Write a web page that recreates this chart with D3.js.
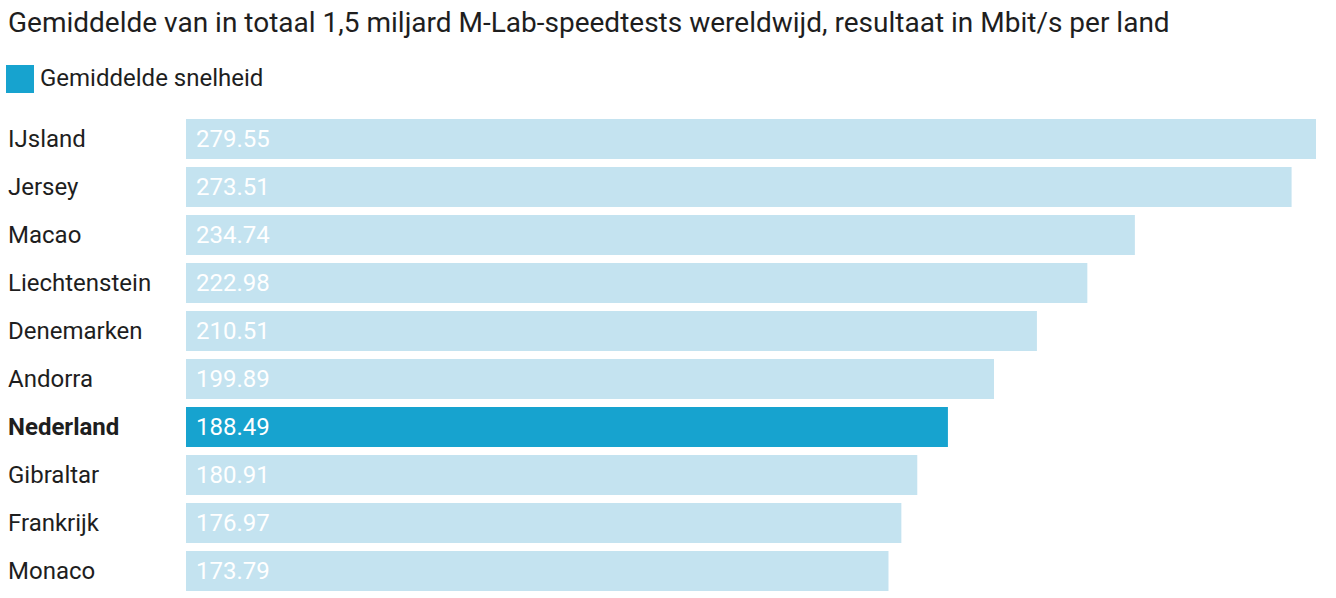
<!DOCTYPE html>
<html>
<head>
<meta charset="utf-8">
<script src="https://cdn.jsdelivr.net/npm/d3@7"></script>
<style>
  html, body { margin: 0; padding: 0; background: #fff; }
  svg { display: block; font-family: Roboto, "Noto Sans", sans-serif; }
</style>
</head>
<body>
<svg id="chart" width="1336" height="598"></svg>
<script>
const titleText = "Gemiddelde van in totaal 1,5 miljard M-Lab-speedtests wereldwijd, resultaat in Mbit/s per land";
const legendLabel = "Gemiddelde snelheid";
const countries = ["IJsland", "Jersey", "Macao", "Liechtenstein", "Denemarken", "Andorra", "Nederland", "Gibraltar", "Frankrijk", "Monaco"];
const speeds = [279.55, 273.51, 234.74, 222.98, 210.51, 199.89, 188.49, 180.91, 176.97, 173.79];
const highlighted = ["Nederland"];

const colorDark = "#17a3cf";
const colorLight = "#c4e3f0";
const textColor = "#1e1e1e";

const svg = d3.select("#chart");

svg.append("text")
  .attr("x", 8).attr("y", 32)
  .attr("font-size", 28)
  .attr("fill", textColor)
  .text(titleText);

svg.append("rect")
  .attr("x", 6).attr("y", 65).attr("width", 28).attr("height", 28)
  .attr("fill", colorDark);
svg.append("text")
  .attr("x", 40).attr("y", 86)
  .attr("font-size", 24)
  .attr("fill", textColor)
  .text(legendLabel);

const x = d3.scaleLinear().domain([0, d3.max(speeds)]).range([186, 1316]);
const y = d3.scaleBand().domain(countries).range([115, 595]).paddingInner(8/48).paddingOuter(4/48);

const data = countries.map((c, i) => ({ country: c, value: speeds[i], hl: highlighted.includes(c) }));

const g = svg.append("g");
g.selectAll("rect.bar").data(data).join("rect")
  .attr("class", "bar")
  .attr("x", x(0))
  .attr("y", d => y(d.country))
  .attr("width", d => x(d.value) - x(0))
  .attr("height", y.bandwidth())
  .attr("fill", d => d.hl ? colorDark : colorLight);

g.selectAll("text.cat").data(data).join("text")
  .attr("class", "cat")
  .attr("x", 8)
  .attr("y", d => y(d.country) + y.bandwidth() / 2 + 8)
  .attr("font-size", 24)
  .attr("font-weight", d => d.hl ? "bold" : "normal")
  .attr("fill", textColor)
  .text(d => d.country);

g.selectAll("text.val").data(data).join("text")
  .attr("class", "val")
  .attr("x", x(0) + 10)
  .attr("y", d => y(d.country) + y.bandwidth() / 2 + 8)
  .attr("font-size", 24)
  .attr("fill", "#fff")
  .text(d => d3.format(".2f")(d.value));
</script>
</body>
</html>
